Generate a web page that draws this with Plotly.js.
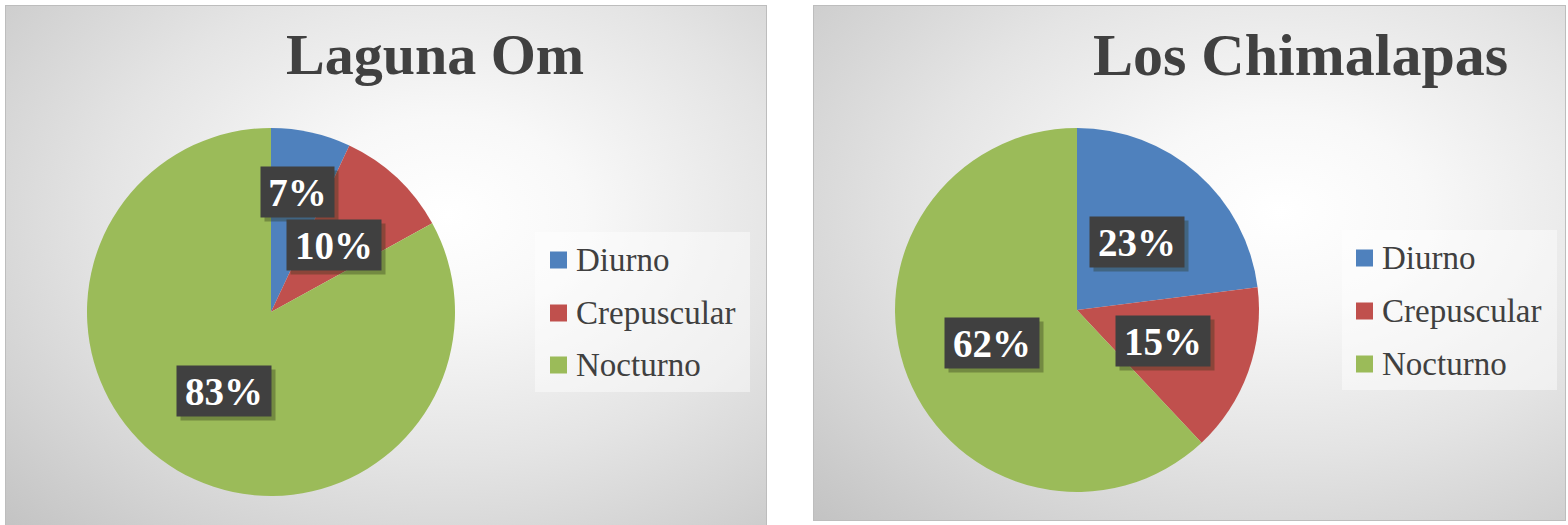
<!DOCTYPE html>
<html>
<head>
<meta charset="utf-8">
<script src="https://cdn.plot.ly/plotly-3.0.1.min.js"></script>
<style>
  html, body { margin:0; padding:0; background:#ffffff; width:1568px; height:525px; overflow:hidden; }
  .panel { position:absolute; box-sizing:border-box; border:1px solid #bdbdbd; }
  #bg1 { left:5px; top:5px; width:762px; height:525px;
    background: radial-gradient(ellipse farthest-corner at 58% 40%, #ffffff 0%, #f8f8f8 22%, #e4e4e4 55%, #d2d2d2 80%, #c3c3c3 100%); }
  #bg2 { left:813px; top:5px; width:753px; height:516px;
    background: radial-gradient(ellipse farthest-corner at 62% 40%, #ffffff 0%, #f8f8f8 22%, #e4e4e4 55%, #d2d2d2 80%, #c3c3c3 100%); }
  #chart { position:absolute; left:0; top:0; width:1568px; height:525px; }
</style>
</head>
<body>
<div id="bg1" class="panel"></div>
<div id="bg2" class="panel"></div>
<div id="chart"></div>
<script>
// ---- data ----
const categories = ['Diurno', 'Crepuscular', 'Nocturno'];
const lagunaOm = [7, 10, 83];
const chimalapas = [23, 15, 62];
const chartTitles = ['Laguna Om', 'Los Chimalapas'];
const sliceColors = ['#4F81BD', '#C0504D', '#9BBB59'];

// ---- layout constants (pixels) ----
const W = 1568, H = 525;
const pies = [
  { values: lagunaOm,   cx: 271,  cy: 312, r: 184, title: chartTitles[0], titleX: 435, titleSize: 58,
    labelR: [0.67, 0.5, 0.5], legendBox: [535, 232, 750, 392], legendX: 550, legendRows: [260, 313, 365] },
  { values: chimalapas, cx: 1077, cy: 310, r: 182, title: chartTitles[1], titleX: 1300, titleSize: 60,
    labelR: [0.5, 0.5, 0.5], legendBox: [1342, 230, 1557, 390], legendX: 1356, legendRows: [258, 311, 364] }
];
const px = x => x / W;
const py = y => 1 - y / H;
const SERIF = '"Liberation Serif", "DejaVu Serif", serif';
const DARK = '#404040';

const traces = [];
const annotations = [];
const shapes = [];

pies.forEach((p, k) => {
  traces.push({
    type: 'pie',
    labels: categories,
    values: p.values,
    sort: false,
    direction: 'clockwise',
    rotation: 0,
    marker: { colors: sliceColors, line: { width: 0 } },
    textinfo: 'none',
    hoverinfo: 'none',
    showlegend: false,
    domain: { x: [px(p.cx - p.r), px(p.cx + p.r)], y: [py(p.cy + p.r), py(p.cy - p.r)] }
  });

  // title
  annotations.push({
    xref: 'paper', yref: 'paper', x: px(p.titleX), y: py(55),
    xanchor: 'center', yanchor: 'middle', showarrow: false,
    text: '<b>' + p.title + '</b>',
    font: { family: SERIF, size: p.titleSize, color: DARK }
  });

  // data labels
  const total = p.values.reduce((a, b) => a + b, 0);
  let cum = 0;
  p.values.forEach((v, i) => {
    const mid = (cum + v / 2) / total;
    cum += v;
    const th = mid * 2 * Math.PI;
    const lx = p.cx + Math.sin(th) * p.labelR[i] * p.r;
    const ly = p.cy - Math.cos(th) * p.labelR[i] * p.r;
    const txt = Math.round(v / total * 100) + '%';
    const bw = txt.length >= 3 ? 94 : 73;
    annotations.push({
      xref: 'paper', yref: 'paper', x: px(lx), y: py(ly), xshift: 4, yshift: -4,
      xanchor: 'center', yanchor: 'middle', showarrow: false,
      text: ' ', width: bw, height: 50, borderpad: 0,
      bgcolor: 'rgba(40,50,20,0.35)', font: { size: 10 }
    });
    annotations.push({
      xref: 'paper', yref: 'paper', x: px(lx), y: py(ly),
      xanchor: 'center', yanchor: 'middle', showarrow: false,
      text: '<b>' + txt + '</b>', width: bw, height: 50, borderpad: 0,
      bgcolor: '#404040', font: { family: SERIF, size: 39, color: '#ffffff' }
    });
  });

  // legend
  const b = p.legendBox;
  shapes.push({
    type: 'rect', xref: 'paper', yref: 'paper',
    x0: px(b[0]), x1: px(b[2]), y0: py(b[3]), y1: py(b[1]),
    fillcolor: 'rgba(255,255,255,0.45)', line: { width: 0 }, layer: 'below'
  });
  categories.forEach((c, i) => {
    const ry = p.legendRows[i];
    shapes.push({
      type: 'rect', xref: 'paper', yref: 'paper',
      x0: px(p.legendX), x1: px(p.legendX + 17), y0: py(ry + 8.5), y1: py(ry - 8.5),
      fillcolor: sliceColors[i], line: { width: 0 }
    });
    annotations.push({
      xref: 'paper', yref: 'paper', x: px(p.legendX + 24), y: py(ry),
      xanchor: 'left', yanchor: 'middle', showarrow: false,
      text: c, font: { family: SERIF, size: 33, color: DARK }
    });
  });
});

const layout = {
  width: W, height: H,
  margin: { l: 0, r: 0, t: 0, b: 0 },
  paper_bgcolor: 'rgba(0,0,0,0)',
  plot_bgcolor: 'rgba(0,0,0,0)',
  showlegend: false,
  annotations: annotations,
  shapes: shapes
};

Plotly.newPlot('chart', traces, layout, { staticPlot: true, displayModeBar: false });
</script>
</body>
</html>
